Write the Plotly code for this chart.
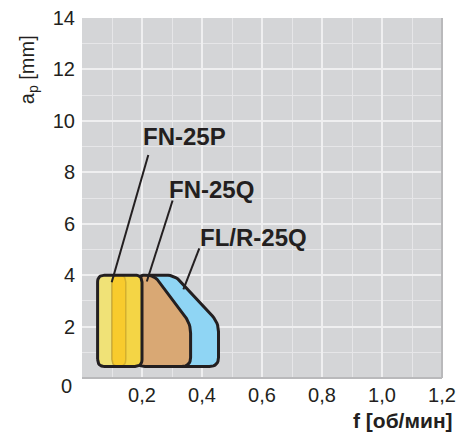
import numpy as np
import plotly.graph_objects as go

# ---------------- data ----------------
x_tick_vals = [0.2, 0.4, 0.6, 0.8, 1.0, 1.2]
x_tick_text = ["0,2", "0,4", "0,6", "0,8", "1,0", "1,2"]
y_tick_vals = [2, 4, 6, 8, 10, 12, 14]
y_tick_text = ["2", "4", "6", "8", "10", "12", "14"]

# working regions: feed f [об/мин] vs depth of cut ap [mm]
fn25p_f = [0.052, 0.2, 0.2, 0.052]
fn25p_ap = [0.45, 0.45, 4.0, 4.0]
fn25p_band_f = [0.1, 0.2, 0.2, 0.1]
fn25p_core_f = [0.1, 0.146, 0.146, 0.1]
fn25q_f = [0.18, 0.362, 0.362, 0.242, 0.18]
fn25q_ap = [0.45, 0.45, 2.1, 4.0, 4.0]
flr25q_f = [0.2, 0.455, 0.455, 0.31, 0.2]
flr25q_ap = [0.45, 0.45, 2.15, 4.0, 4.0]

# labels and leader lines
label_names = ["FN-25P", "FN-25Q", "FL/R-25Q"]
label_f = [0.34, 0.43, 0.57]
label_ap = [9.41, 7.33, 5.46]
leader_f0 = [0.221, 0.302, 0.391]
leader_ap0 = [8.67, 6.9, 5.04]
leader_f1 = [0.099, 0.216, 0.338]
leader_ap1 = [3.72, 3.75, 3.45]

# ---------------- helpers ----------------
SX = 360.0 / 1.2   # px per unit of f
SY = 360.0 / 14.0  # px per unit of ap


def rounded(xs, ys, r):
    P = np.column_stack([np.array(xs, float) * SX, np.array(ys, float) * SY])
    n = len(P)
    out = []
    for i in range(n):
        p0, p1, p2 = P[i - 1], P[i], P[(i + 1) % n]
        d1, d2 = p0 - p1, p2 - p1
        l1, l2 = np.linalg.norm(d1), np.linalg.norm(d2)
        rr = min(r, l1 / 2, l2 / 2)
        a = p1 + d1 / l1 * rr
        b = p1 + d2 / l2 * rr
        for t in np.linspace(0, 1, 9):
            out.append((1 - t) ** 2 * a + 2 * (1 - t) * t * p1 + t ** 2 * b)
    out.append(out[0])
    out = np.array(out)
    return out[:, 0] / SX, out[:, 1] / SY


INK = "#231f20"
FONT = "Liberation Sans, Arial, sans-serif"

fig = go.Figure()


def poly(xs, ys, fill, r, line_color=INK, line_width=3, fill_on=True):
    x, y = rounded(xs, ys, r)
    fig.add_trace(go.Scatter(
        x=x, y=y, mode="lines",
        fill="toself" if fill_on else None,
        fillcolor=fill,
        line=dict(color=line_color, width=line_width),
        hoverinfo="skip", showlegend=False))


# FL/R-25Q (back)
poly(flr25q_f, flr25q_ap, "#8fd5f4", 9)
# FN-25Q
poly(fn25q_f, fn25q_ap, "#d9a874", 9)
# FN-25P
poly(fn25p_f, fn25p_ap, "#f0e277", 7, line_width=0)
poly(fn25p_band_f, fn25p_ap, "#f4d545", 7, line_color="rgba(170,140,40,0.45)", line_width=1.5)
poly(fn25p_core_f, fn25p_ap, "#f8cb2d", 7, line_color="rgba(170,140,40,0.45)", line_width=1.5)
poly(fn25p_f, fn25p_ap, "rgba(0,0,0,0)", 7, fill_on=False)

# leader lines
for i in range(len(label_names)):
    fig.add_trace(go.Scatter(
        x=[leader_f0[i], leader_f1[i]], y=[leader_ap0[i], leader_ap1[i]],
        mode="lines", line=dict(color=INK, width=2),
        hoverinfo="skip", showlegend=False))

annotations = []
for name, fx, ay in zip(label_names, label_f, label_ap):
    annotations.append(dict(
        x=fx, y=ay, xref="x", yref="y", text=name, showarrow=False,
        font=dict(family=FONT, size=24, color=INK, weight="bold"),
        xanchor="center", yanchor="middle"))

annotations.append(dict(
    x=-0.044, y=-0.021, xref="paper", yref="paper", text="0", showarrow=False,
    font=dict(family=FONT, size=20, color=INK), xanchor="center", yanchor="middle"))
annotations.append(dict(
    x=1.036, y=-0.119, xref="paper", yref="paper", text="f [об/мин]", showarrow=False,
    font=dict(family=FONT, size=21, color=INK, weight="bold"),
    xanchor="right", yanchor="middle"))
annotations.append(dict(
    x=-0.15, y=0.855, xref="paper", yref="paper",
    text="a<sub>p</sub> [mm]", showarrow=False, textangle=-90,
    font=dict(family=FONT, size=20, color=INK), xanchor="center", yanchor="middle"))

grid_major = "#efeff0"
grid_minor = "#e6e6e8"
x_minor = [round(0.1 * k, 1) for k in range(1, 12, 2)]
y_minor = [k for k in range(1, 14, 2)]

# The page body has an 8px margin, so the figure is made 8px smaller and its
# margins shifted so the plot lands where the reference puts it.
fig.update_layout(
    width=463, height=424,
    margin=dict(l=74, r=29, t=10, b=54, autoexpand=False),
    paper_bgcolor="white", plot_bgcolor="#d4d5d7",
    annotations=annotations,
    shapes=[
        dict(type="line", xref="paper", yref="paper", x0=1, x1=1, y0=0, y1=1,
             line=dict(color="#b9b9bb", width=2)),
        dict(type="line", xref="paper", yref="paper", x0=0, x1=1, y0=0, y1=0,
             line=dict(color="#b9b9bb", width=2)),
    ],
    xaxis=dict(
        range=[0, 1.2], tickmode="array", tickvals=x_tick_vals, ticktext=x_tick_text,
        showgrid=True, gridcolor=grid_major, gridwidth=2, zeroline=False,
        minor=dict(tickmode="array", tickvals=x_minor, showgrid=True,
                   gridcolor=grid_minor, gridwidth=1),
        tickfont=dict(family=FONT, size=20, color=INK), ticklabeloverflow="allow",
        ticks="", ticklabelstandoff=3, fixedrange=True, automargin=False),
    yaxis=dict(
        range=[0, 14], tickmode="array", tickvals=y_tick_vals, ticktext=y_tick_text,
        showgrid=True, gridcolor=grid_major, gridwidth=2, zeroline=False,
        minor=dict(tickmode="array", tickvals=y_minor, showgrid=True,
                   gridcolor=grid_minor, gridwidth=1),
        tickfont=dict(family=FONT, size=20, color=INK), ticklabeloverflow="allow",
        ticks="", ticklabelstandoff=6, fixedrange=True, automargin=False),
)

fig.write_html("out.html")
